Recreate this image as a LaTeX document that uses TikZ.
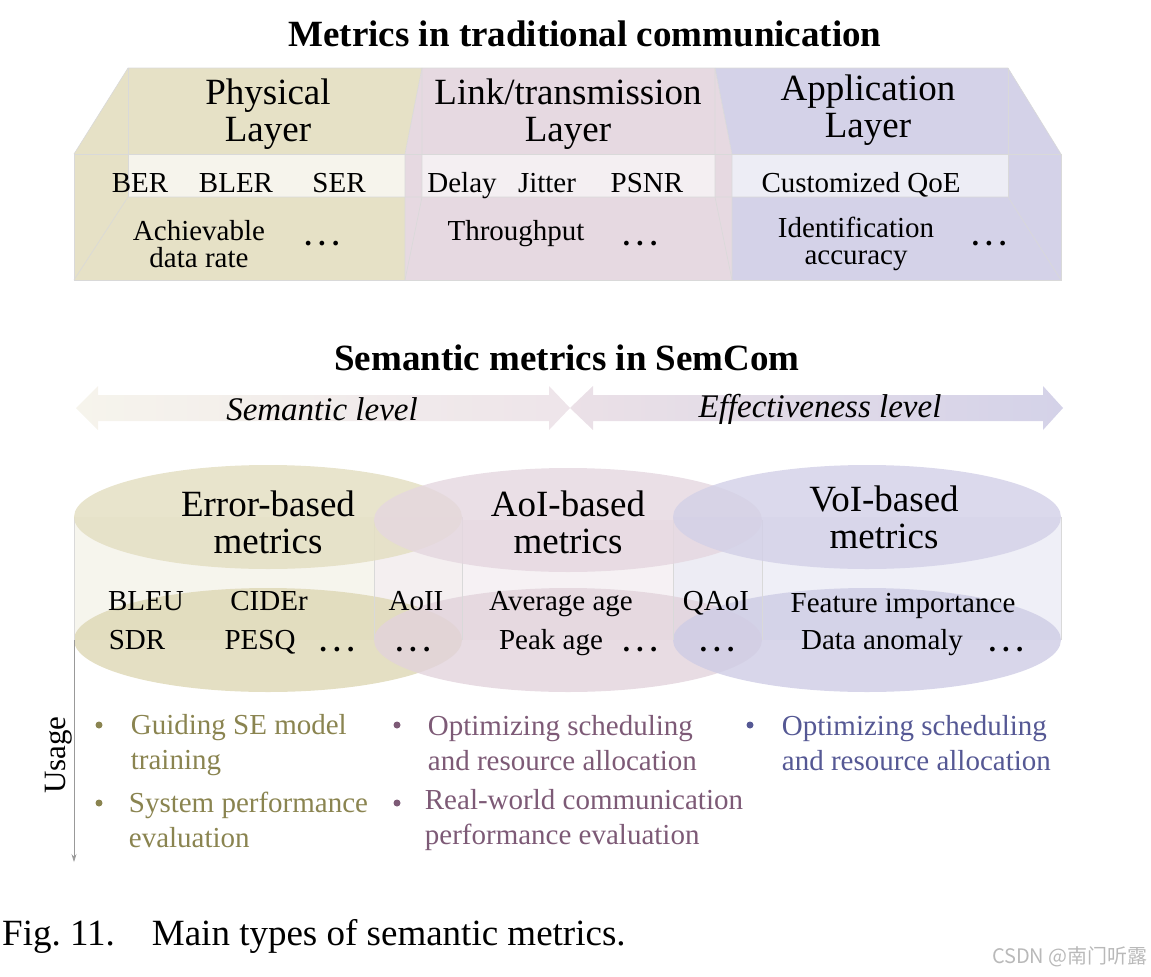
\documentclass[tikz,border=0pt]{standalone}
\usepackage{fontspec}
\setmainfont{Liberation Serif}
\newfontfamily\cjkfont{Noto Sans CJK SC}
\usetikzlibrary{shapes, arrows.meta, positioning, calc}
\definecolor{physc}{HTML}{E6E1C6}
\definecolor{linkc}{HTML}{E6D9E1}
\definecolor{appc}{HTML}{D4D2E8}
\definecolor{physband}{HTML}{F6F4EC}
\definecolor{linkband}{HTML}{F4EFF2}
\definecolor{appband}{HTML}{EDEDF5}
\definecolor{errtop}{HTML}{E4DFC3}
\definecolor{errbot}{HTML}{DFD9B8}
\definecolor{errbody}{HTML}{F4F2E9}
\definecolor{aoitop}{HTML}{E5D7E0}
\definecolor{aoibot}{HTML}{E2D3DC}
\definecolor{aoibody}{HTML}{F4EEF1}
\definecolor{voitop}{HTML}{D2D0E7}
\definecolor{voibot}{HTML}{CECCE5}
\definecolor{voibody}{HTML}{EBEBF5}
\definecolor{olivetext}{HTML}{8A8450}
\definecolor{mauvetext}{HTML}{7D5A76}
\definecolor{indigotext}{HTML}{555894}
\newcommand{\moredots}{\textbf{.\hspace{0.22em}.\hspace{0.22em}.}}
\tikzstyle{heading} = [font=\bfseries\fontsize{37}{37}\selectfont, inner sep=0pt]
\tikzstyle{layername} = [align=center, font=\fontsize{37}{37}\selectfont, inner sep=0pt]
\tikzstyle{metric} = [font=\fontsize{29}{30}\selectfont, inner sep=0pt, text height=20pt, text depth=6pt]
\tikzstyle{twoline} = [align=center, font=\fontsize{29}{27}\selectfont, inner sep=0pt]
\tikzstyle{level} = [font=\itshape\fontsize{33}{33}\selectfont, inner sep=0pt]
\tikzstyle{usage} = [align=left, font=\fontsize{29}{35}\selectfont, inner sep=0pt]
\tikzstyle{dot} = [circle, inner sep=0pt, minimum size=7pt]
\tikzstyle{edge} = [draw=gray!30, line width=0.6pt]

\begin{document}
\begin{tikzpicture}[x=1pt, y=-1pt, node distance=100pt]
\useasboundingbox (0,0) rectangle (1151,977);

% traditional communication box
\node (tradtitle) [heading] at (585,34) {Metrics in traditional communication};
\fill[physc] (74,154) -- (128,68) -- (422,68) -- (405,154) -- (405,280) -- (74,280) -- cycle;
\fill[linkc] (405,154) -- (422,68) -- (715,68) -- (732,154) -- (732,280) -- (405,280) -- cycle;
\fill[appc] (732,154) -- (715,68) -- (1008,68) -- (1061,154) -- (1061,280) -- (732,280) -- cycle;
\fill[physband] (128,154) rectangle (405,197);
\fill[linkband] (422,154) rectangle (715,197);
\fill[appband] (732,154) rectangle (1008,197);
\draw[edge] (74,154) rectangle (1061,280);
\draw[edge] (74,154) -- (128,68) -- (1008,68) -- (1061,154);
\draw[edge] (74,280) -- (128,197) -- (1008,197) -- (1061,280);
\draw[edge] (128,68) -- (128,197);
\draw[edge] (1008,68) -- (1008,197);
\draw[edge] (422,68) -- (405,154) -- (405,280);
\draw[edge] (422,68) -- (422,197) -- (405,280);
\draw[edge] (715,68) -- (732,154) -- (732,280);
\draw[edge] (715,68) -- (715,197) -- (732,280);

\node (phys) [layername] at (268,114) {Physical\\Layer};
\node (link) [layername, right of=phys, node distance=300pt] {Link/transmission\\Layer};
\node (app) [layername, right of=link, node distance=300pt, yshift=4pt] {Application\\Layer};

\node (ber) [metric] at (140,185) {BER};
\node (bler) [metric, right of=ber, xshift=-4pt] {BLER};
\node (ser) [metric, right of=bler, xshift=3pt] {SER};
\node (delay) [metric] at (462,185) {Delay};
\node (jitter) [metric, right of=delay, xshift=-15pt] {Jitter};
\node (psnr) [metric, right of=jitter] {PSNR};
\node (qoe) [metric] at (861,185) {Customized QoE};

\node (rate) [twoline] at (199,244) {Achievable\\data rate};
\node (physmore) [metric] at (322,238) {\moredots};
\node (thru) [metric] at (516,233) {Throughput};
\node (linkmore) [metric] at (640,238) {\moredots};
\node (ident) [twoline] at (856,244) {Identification\\accuracy};
\node (appmore) [metric] at (989,238) {\moredots};

% semantic levels
\node (semtitle) [heading] at (567,358) {Semantic metrics in SemCom};
\shade[left color=physband, right color=linkc!70] (76,408) -- (98,386) -- (98,395) -- (549,395) -- (549,386) -- (570,408) -- (549,430) -- (549,421) -- (98,421) -- (98,430) -- cycle;
\shade[left color=linkc!80, right color=appc] (570,408) -- (593,386) -- (593,395) -- (1043,395) -- (1043,386) -- (1063,408) -- (1043,430) -- (1043,421) -- (593,421) -- (593,430) -- cycle;
\node (semlevel) [level] at (322,409) {Semantic level};
\node (efflevel) [level] at (820,409) {Effectiveness level};

% cylinders
\fill[errbody, fill opacity=0.8] (74,517) rectangle (462,640);
\fill[aoibody, fill opacity=0.8] (374,520) rectangle (762,640);
\fill[voibody, fill opacity=0.8] (673,517) rectangle (1061,640);
\fill[errbot, fill opacity=0.85] (268,640) ellipse [x radius=194pt, y radius=52pt];
\fill[aoibot, fill opacity=0.8] (568,640) ellipse [x radius=194pt, y radius=52pt];
\fill[voibot, fill opacity=0.8] (867,640) ellipse [x radius=194pt, y radius=52pt];
\draw[edge] (74,517) -- (74,640);
\draw[edge] (462,517) -- (462,640);
\draw[edge] (374,520) -- (374,640);
\draw[edge] (762,520) -- (762,640);
\draw[edge] (673,517) -- (673,640);
\draw[edge] (1061,517) -- (1061,640);
\fill[errtop, fill opacity=0.85] (268,517) ellipse [x radius=194pt, y radius=52pt];
\fill[aoitop, fill opacity=0.8] (568,520) ellipse [x radius=194pt, y radius=52pt];
\fill[voitop, fill opacity=0.8] (867,517) ellipse [x radius=194pt, y radius=52pt];

\node (errname) [layername] at (268,522) {Error-based\\metrics};
\node (aoiname) [layername, right of=errname, node distance=300pt] {AoI-based\\metrics};
\node (voiname) [layername, right of=aoiname, node distance=316pt, yshift=5pt] {VoI-based\\metrics};

\node (bleu) [metric] at (146,603) {BLEU};
\node (cider) [metric, right of=bleu, xshift=23pt] {CIDEr};
\node (aoii) [metric] at (416,603) {AoII};
\node (avgage) [metric] at (561,603) {Average age};
\node (qaoi) [metric] at (716,603) {QAoI};
\node (feature) [metric] at (903,605) {Feature importance};
\node (sdr) [metric] at (137,642) {SDR};
\node (pesq) [metric, right of=sdr, xshift=23pt] {PESQ};
\node (errmore) [metric] at (337,644) {\moredots};
\node (aoiimore) [metric] at (413,644) {\moredots};
\node (peakage) [metric] at (551,642) {Peak age};
\node (aoimore) [metric] at (640,644) {\moredots};
\node (qaoimore) [metric] at (717,644) {\moredots};
\node (anomaly) [metric] at (882,642) {Data anomaly};
\node (voimore) [metric] at (1006,644) {\moredots};

% usage
\coordinate (usagetop) at (74,640);
\coordinate (usageend) at (74,862);
\draw[-{Stealth[length=8pt, width=5pt]}, gray!80, line width=0.7pt] (usagetop) -- (usageend);
\node (usage) [rotate=90, font=\fontsize{31}{31}\selectfont, inner sep=0pt] at (59,755) {Usage};

\node (d1) [dot, fill=olivetext] at (99,725) {};
\node (u1) [usage, text=olivetext, right=28pt of d1, yshift=-20pt] {Guiding SE model\\training};
\node (d2) [dot, fill=olivetext] at (99,803) {};
\node (u2) [usage, text=olivetext, right=26pt of d2, yshift=-17pt] {System performance\\evaluation};
\node (d3) [dot, fill=mauvetext] at (397,725) {};
\node (u3) [usage, text=mauvetext, right=27pt of d3, yshift=-18pt] {Optimizing scheduling\\and resource allocation};
\node (d4) [dot, fill=mauvetext] at (397,803) {};
\node (u4) [usage, text=mauvetext, right=24pt of d4, yshift=-17pt] {Real-world communication\\performance evaluation};
\node (d5) [dot, fill=indigotext] at (750,725) {};
\node (u5) [usage, text=indigotext, right=28pt of d5, yshift=-18pt] {Optimizing scheduling\\and resource allocation};

% caption
\node (caption) [anchor=west, font=\fontsize{37}{37}\selectfont, inner sep=0pt] at (2,936) {Fig.~11.\quad Main types of semantic metrics.};
\node (mark) [anchor=east, text=gray!55, font=\cjkfont\fontsize{20}{20}\selectfont, inner sep=0pt] at (1148,957) {CSDN @南门听露};
\end{tikzpicture}
\end{document}
